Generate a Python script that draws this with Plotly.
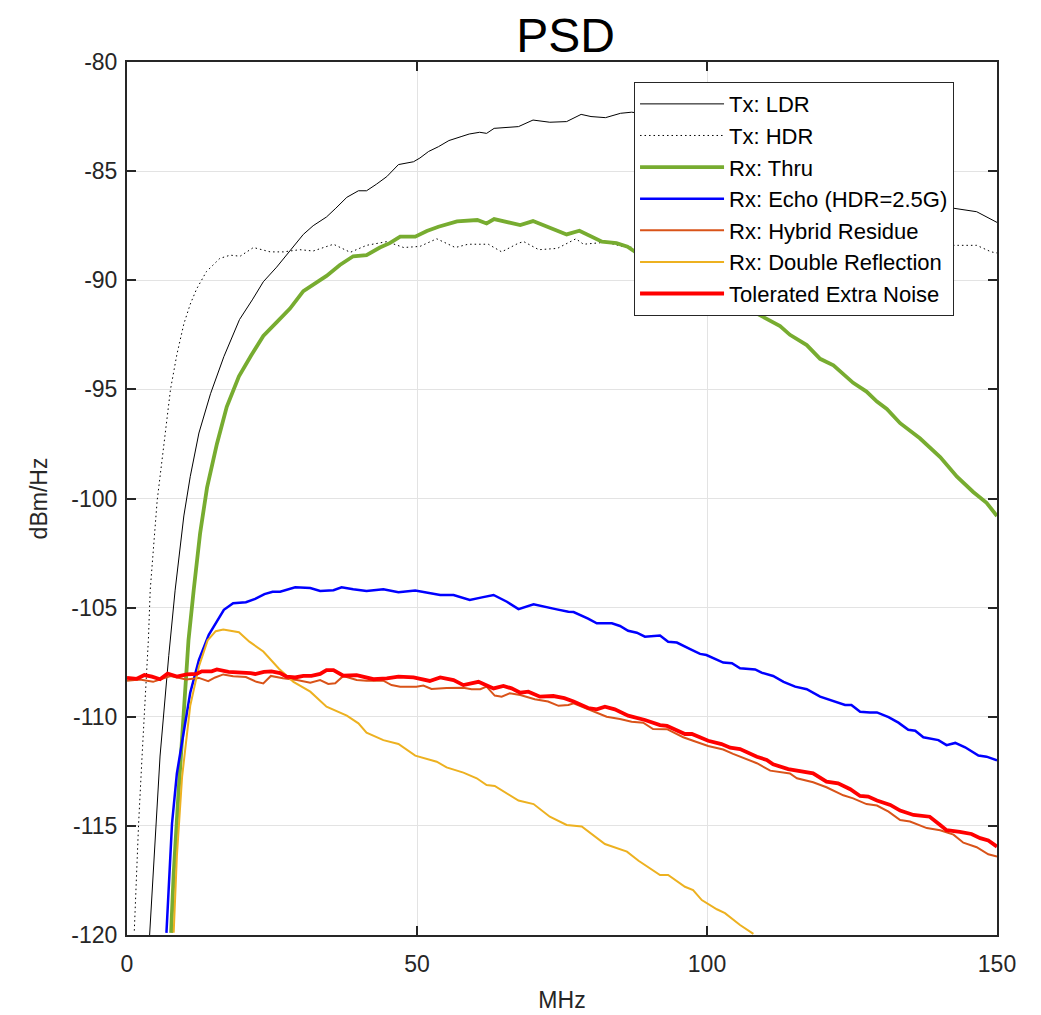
import plotly.graph_objects as go

# ---------------- data ----------------
ldr_x = [3.9, 4.9, 5.7, 7.2, 8.3, 9.8, 10.9, 12.4, 14.4, 16.7, 19.4, 21.6, 23.5, 25.8, 28.0,
         30.4, 32.1, 34.4, 36.0, 37.9, 39.9, 41.3, 43.0, 44.8, 46.8, 48.0, 49.4, 50.5, 52.0,
         53.7, 55.5, 57.6, 59.0, 60.8, 62.0, 63.3, 65.0, 67.5, 70.0, 72.9, 75.8, 78.3, 80.0,
         82.5, 85.1, 87.0, 90, 95, 100, 105, 110, 115, 120, 125, 130, 135, 140, 146.5, 150]
ldr_y = [-120, -115.6, -111.8, -107.2, -104.2, -100.8, -99.0, -97.0, -95.2, -93.5, -91.8, -90.9,
         -90.07, -89.4, -88.7, -87.9, -87.5, -87.1, -86.7, -86.2, -85.9, -85.9, -85.6, -85.25,
         -84.7, -84.65, -84.57, -84.4, -84.1, -83.88, -83.6, -83.42, -83.3, -83.22, -83.27,
         -83.04, -83.0, -82.96, -82.66, -82.76, -82.73, -82.4, -82.5, -82.55, -82.35, -82.3,
         -82.4, -82.7, -83.0, -83.5, -84.0, -84.5, -85.0, -85.5, -85.9, -86.3, -86.6, -86.86, -87.35]

hdr_x = [1.26, 2.0, 2.6, 3.2, 3.7, 4.0, 5.2, 6.6, 7.5, 8.6, 9.8, 10.9, 12.0, 13.7, 16.0, 17.8,
         19.5, 21.8, 24.7, 27.0, 29.8, 32.1, 35.6, 38.5, 41.3, 44.8, 47.7, 50.5, 53.4, 56.6,
         58.8, 62.3, 64.6, 67.5, 68.4, 71.0, 74.2, 77.4, 78.7, 82.5, 86.3, 90, 95, 100, 105,
         110, 115, 120, 125, 130, 135, 140, 146.5, 149, 150]
hdr_y = [-119.8, -114.9, -111.8, -108.8, -106.4, -104.2, -100.1, -97.0, -95.0, -93.4, -92.0,
         -91.1, -90.4, -89.6, -89.0, -88.85, -88.9, -88.5, -88.7, -88.7, -88.6, -88.66, -88.35,
         -88.72, -88.4, -88.23, -88.5, -88.45, -88.1, -88.5, -88.35, -88.35, -88.7, -88.3,
         -88.23, -88.6, -88.54, -88.1, -88.35, -88.26, -88.5, -88.4, -88.5, -88.4, -88.5, -88.4,
         -88.5, -88.4, -88.5, -88.4, -88.5, -88.4, -88.4, -88.7, -88.75]

thru_x = [7.6, 8.05, 8.9, 10.05, 10.6, 11.5, 12.6, 13.8, 15.5, 17.2, 19.3, 21.4, 23.5, 25.7,
          28.1, 30.4, 32.1, 34.4, 36.7, 39.0, 41.3, 43.6, 45.3, 47.1, 49.7, 51.7, 53.7, 56.9,
          60.4, 62.0, 63.3, 67.8, 70.0, 72.9, 75.8, 78.0, 81.9, 84.4, 86.3, 87.6, 90, 95, 100,
          105, 107.4, 109.1, 112.6, 114.3, 117.2, 119.5, 121.8, 125.2, 127.5, 129.3, 131.0,
          133.3, 136.7, 140.2, 143.1, 145.9, 148.2, 150]
thru_y = [-119.9, -117.2, -113.4, -108.8, -106.5, -104.2, -101.6, -99.5, -97.5, -95.8, -94.4,
          -93.45, -92.55, -91.95, -91.3, -90.5, -90.2, -89.8, -89.3, -88.9, -88.85, -88.5, -88.3,
          -88.0, -88.0, -87.74, -87.55, -87.3, -87.24, -87.4, -87.2, -87.47, -87.29, -87.6, -87.9,
          -87.73, -88.23, -88.3, -88.46, -88.7, -88.9, -89.5, -90.1, -90.8, -91.36, -91.6, -92.1,
          -92.5, -92.97, -93.6, -93.9, -94.7, -95.1, -95.56, -95.9, -96.55, -97.24, -98.1, -99.0,
          -99.7, -100.2, -100.8]

echo_x = [6.8, 7.2, 7.76, 8.6, 9.8, 10.9, 12.4, 14.1, 16.7, 18.3, 20.5, 22.1, 23.7, 25.1, 26.4,
          29.0, 31.6, 33.3, 35.6, 37.0, 39.0, 41.3, 44.2, 46.8, 49.7, 51.7, 54.0, 56.3, 59.1,
          61.2, 63.2, 65.5, 67.5, 70.1, 72.4, 74.1, 76.1, 77.0, 79.5, 81.0, 83.6, 85.0, 86.4,
          87.9, 89.3, 91.9, 93.3, 94.8, 97.1, 98.8, 99.9, 102.8, 104.3, 105.7, 108.3, 109.4,
          111.4, 113.2, 115.2, 117.2, 119.5, 122.1, 123.8, 124.9, 126.4, 128.1, 129.3, 131.3,
          133.0, 134.7, 135.9, 137.3, 139.9, 141.3, 142.8, 144.5, 146.8, 148.2, 150]
echo_y = [-119.9, -117.9, -114.9, -112.6, -110.6, -108.9, -107.4, -106.25, -105.1, -104.8,
          -104.75, -104.6, -104.38, -104.27, -104.27, -104.07, -104.1, -104.24, -104.2, -104.07,
          -104.16, -104.24, -104.16, -104.3, -104.22, -104.3, -104.42, -104.42, -104.65, -104.53,
          -104.42, -104.73, -105.07, -104.85, -105.0, -105.08, -105.19, -105.2, -105.5, -105.72,
          -105.72, -105.84, -106.06, -106.15, -106.33, -106.28, -106.56, -106.6, -106.9, -107.12,
          -107.17, -107.52, -107.55, -107.78, -107.83, -107.98, -108.13, -108.4, -108.62, -108.74,
          -109.08, -109.3, -109.46, -109.46, -109.77, -109.8, -109.8, -110.02, -110.27, -110.6,
          -110.64, -110.94, -111.07, -111.3, -111.2, -111.4, -111.78, -111.83, -112.0]

hyb_x = [0, 2.2, 4.5, 6.3, 7.5, 10.2, 12.4, 14.0, 15.2, 16.6, 18.3, 20.5, 22.3, 23.5, 24.8,
         26.9, 29.3, 31.6, 33.3, 34.7, 35.9, 37.3, 39.6, 41.3, 44.2, 45.6, 47.1, 49.9, 51.1,
         52.5, 55.1, 58.0, 59.4, 60.9, 62.0, 63.4, 64.6, 66.0, 67.8, 70.3, 72.6, 74.4, 76.1,
         77.0, 79.0, 80.4, 82.7, 85.0, 87.0, 89.0, 90.7, 93.1, 95.9, 97.6, 100.2, 102.8, 104.5,
         108.6, 110.9, 114.3, 115.5, 118.3, 120.6, 123.5, 125.2, 127.5, 129.3, 131.3, 133.3,
         135.0, 137.9, 140.2, 142.5, 144.2, 146.5, 148.5, 150]
hyb_y = [-108.35, -108.29, -108.4, -108.24, -108.13, -108.29, -108.22, -108.37, -108.2, -108.06,
         -108.14, -108.18, -108.4, -108.47, -108.13, -108.24, -108.32, -108.44, -108.32, -108.5,
         -108.47, -108.13, -108.32, -108.35, -108.35, -108.55, -108.62, -108.62, -108.57,
         -108.73, -108.68, -108.67, -108.74, -108.74, -108.62, -109.03, -109.08, -108.92, -109.0,
         -109.2, -109.3, -109.5, -109.46, -109.38, -109.6, -109.77, -110.0, -110.1, -110.23,
         -110.27, -110.56, -110.57, -110.94, -111.1, -111.34, -111.5, -111.7, -112.13, -112.47,
         -112.6, -112.82, -113.0, -113.23, -113.6, -113.74, -114.0, -114.07, -114.35, -114.73,
         -114.8, -115.1, -115.2, -115.4, -115.77, -115.98, -116.3, -116.4]

dbl_x = [8.05, 8.6, 9.5, 10.9, 12.4, 13.9, 15.3, 16.6, 19.3, 21.1, 23.5, 26.2, 28.7, 31.6,
         34.4, 36.2, 37.9, 39.9, 41.3, 44.2, 46.8, 49.7, 53.4, 55.1, 58.0, 60.3, 62.0, 63.4,
         67.5, 70.1, 72.9, 75.8, 78.4, 82.4, 86.2, 88.2, 91.9, 93.3, 96.2, 97.6, 99.1, 101.7,
         103.1, 105.7, 108.0]
dbl_y = [-119.9, -116.4, -112.75, -109.5, -107.7, -106.5, -106.08, -106.0, -106.13, -106.56,
         -107.01, -107.8, -108.4, -108.85, -109.54, -109.77, -109.95, -110.3, -110.73, -111.07,
         -111.25, -111.78, -112.06, -112.32, -112.56, -112.82, -113.13, -113.17, -113.84, -114.0,
         -114.58, -114.96, -115.03, -115.83, -116.18, -116.6, -117.25, -117.25, -117.79, -117.94,
         -118.4, -118.82, -119.0, -119.54, -119.95]

tol_x = [0, 1.7, 3.0, 4.3, 5.7, 7.0, 8.6, 10.3, 12.0, 12.9, 14.6, 15.5, 17.5, 19.5, 21.3, 22.1,
         23.6, 24.9, 26.4, 27.5, 29.0, 30.4, 31.8, 33.3, 34.4, 35.6, 37.3, 39.6, 42.5, 44.8,
         46.8, 49.4, 52.2, 54.0, 56.3, 58.0, 60.6, 63.2, 64.9, 66.3, 67.8, 69.2, 71.2, 73.5,
         75.4, 77.0, 79.5, 81.0, 82.4, 84.1, 86.4, 89.3, 91.9, 93.1, 96.2, 97.4, 100.2, 102.5,
         104.0, 105.7, 108.6, 110.3, 111.4, 114.0, 117.2, 118.3, 120.6, 122.6, 124.7, 126.4,
         127.8, 129.3, 131.6, 133.3, 135.6, 138.4, 140.2, 141.3, 143.6, 145.6, 147.1, 148.5, 150]
tol_y = [-108.22, -108.26, -108.09, -108.16, -108.28, -108.02, -108.16, -108.06, -108.04, -107.92,
         -107.92, -107.83, -107.94, -107.95, -108.0, -108.04, -107.94, -107.92, -108.0, -108.16,
         -108.2, -108.13, -108.13, -108.04, -107.86, -107.86, -108.12, -108.09, -108.28, -108.24,
         -108.16, -108.2, -108.36, -108.2, -108.32, -108.55, -108.4, -108.7, -108.59, -108.7,
         -108.9, -108.85, -109.08, -109.05, -109.15, -109.3, -109.6, -109.66, -109.54, -109.66,
         -109.95, -110.15, -110.38, -110.42, -110.79, -110.79, -111.1, -111.25, -111.42, -111.48,
         -111.83, -111.98, -112.18, -112.4, -112.56, -112.59, -112.97, -113.05, -113.32, -113.63,
         -113.66, -113.84, -114.04, -114.3, -114.5, -114.58, -114.96, -115.2, -115.27, -115.37,
         -115.56, -115.67, -115.95]

series_names = ["Tx: LDR", "Tx: HDR", "Rx: Thru", "Rx: Echo (HDR=2.5G)",
                "Rx: Hybrid Residue", "Rx: Double Reflection", "Tolerated Extra Noise"]
x_ticks = [0, 50, 100, 150]
y_ticks = [-120, -115, -110, -105, -100, -95, -90, -85, -80]

# ---------------- figure ----------------
styles = [
    dict(color="#000000", width=1),
    dict(color="#000000", width=1, dash="1.5px,3px"),
    dict(color="#77AC30", width=3.8),
    dict(color="#0000FF", width=2.5),
    dict(color="#D95319", width=2),
    dict(color="#EDB120", width=2),
    dict(color="#FF0000", width=3.8),
]
data = [(ldr_x, ldr_y), (hdr_x, hdr_y), (thru_x, thru_y), (echo_x, echo_y),
        (hyb_x, hyb_y), (dbl_x, dbl_y), (tol_x, tol_y)]

fig = go.Figure()
for (xs, ys), name, st in zip(data, series_names, styles):
    fig.add_trace(go.Scatter(x=xs, y=ys, mode="lines", name=name, line=st))

axcol = "#262626"
# the page body adds an 8px margin, so the figure is offset by 8px
fig.update_layout(
    width=1033, height=1007,
    margin=dict(l=119, r=44, t=54, b=80),
    paper_bgcolor="white", plot_bgcolor="white",
    font=dict(family="Liberation Sans, Arial, sans-serif", color=axcol),
    title=dict(text="PSD", x=0.5398, xanchor="center", y=0.973, yanchor="middle",
               yref="container",
               font=dict(family="Liberation Sans, Arial, sans-serif", size=48, color="#000000")),
    showlegend=True,
    legend=dict(x=0.5828, y=0.977, xanchor="left", yanchor="top",
                bgcolor="white", bordercolor="#262626", borderwidth=1,
                font=dict(size=22, color="#000000"), itemwidth=84,
                tracegroupgap=0),
)
fig.update_xaxes(
    range=[0, 150], tickvals=x_ticks, ticktext=[str(v) for v in x_ticks],
    showline=True, linecolor=axcol, linewidth=2, mirror="ticks",
    ticks="inside", ticklen=9, tickwidth=2, tickcolor=axcol,
    showgrid=True, gridcolor="#e3e3e3", gridwidth=1, zeroline=False,
    tickfont=dict(size=23, color=axcol), ticklabelstandoff=7, automargin=False,
    title=dict(text="MHz", font=dict(size=23, color=axcol), standoff=16),
)
fig.update_yaxes(
    range=[-120, -80], tickvals=y_ticks, ticktext=[str(v) for v in y_ticks],
    showline=True, linecolor=axcol, linewidth=2, mirror="ticks",
    ticks="inside", ticklen=9, tickwidth=2, tickcolor=axcol,
    showgrid=True, gridcolor="#e3e3e3", gridwidth=1, zeroline=False,
    tickfont=dict(size=23, color=axcol), ticklabelstandoff=3, automargin=False,
    title=dict(text="dBm/Hz", font=dict(size=23, color=axcol), standoff=17),
)

fig.write_html("out.html")
